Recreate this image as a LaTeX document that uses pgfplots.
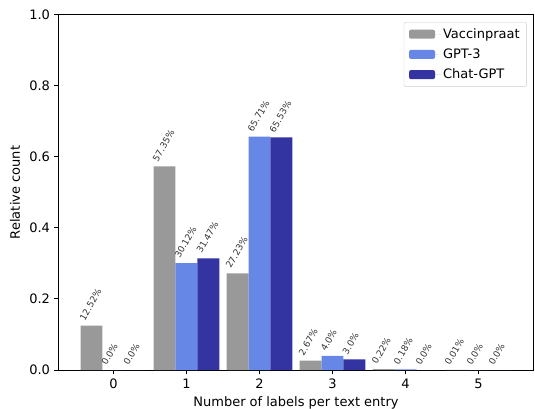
\documentclass[border=0pt]{standalone}
\usepackage{pgfplots}
\pgfplotsset{compat=1.18}
\usepackage{fontspec}
\setmainfont{DejaVu Sans}
\definecolor{cgrey}{HTML}{999999}
\definecolor{cgpt}{HTML}{6787E7}
\definecolor{cchat}{HTML}{3333A2}
\begin{document}
\fontsize{13}{15}\selectfont
\begin{tikzpicture}
\path[use as bounding box] (-59pt,-39pt) rectangle (476pt,370pt);
\begin{axis}[
  scale only axis, width=474pt, height=355pt,
  ybar,
  xmin=-0.745, xmax=5.745, ymin=0, ymax=1,
  xtick={0,1,2,3,4,5},
  ytick={0,0.2,0.4,0.6,0.8,1},
  /pgf/number format/assume math mode=true,
  yticklabel style={/pgf/number format/.cd, fixed, fixed zerofill, precision=1},
  ticklabel style={font=\fontsize{13}{15}\selectfont},
  tick align=outside, major tick length=4.5pt,
  xtick pos=bottom, ytick pos=left,
  axis line style={line width=1pt},
  tick style={black, line width=1pt},
  bar width=0.3,
  xlabel={Number of labels per text entry},
  ylabel={Relative count},
  label style={font=\fontsize{13}{15}\selectfont},
  xlabel style={at={(axis description cs:0.5,-0.093)}, anchor=center},
  ylabel style={at={(axis description cs:-0.0928,0.5)}, anchor=center},
  point meta=explicit symbolic,
  nodes near coords={\pgfplotspointmeta},
  every node near coord/.append style={font=\fontsize{9}{10}\selectfont, xshift=-6.5pt, yshift=4pt, rotate=60, anchor=south west, inner sep=0pt, text=black!80},
  legend style={at={(0.987,0.98)}, anchor=north east, draw=black!20, rounded corners=2pt, font=\fontsize{13}{15}\selectfont, row sep=4.5pt, inner xsep=5pt, inner ysep=4pt, cells={anchor=west}},
  legend image code/.code={\fill[#1] (0pt,-4.5pt) rectangle (26pt,4.5pt); \path (0pt,0pt) -- (32pt,0pt);},
]
\addplot[fill=cgrey, draw=none, bar shift=-0.3] coordinates {
  (0,0.1252) [12.52\%]
  (1,0.5735) [57.35\%]
  (2,0.2723) [27.23\%]
  (3,0.0267) [2.67\%]
  (4,0.0022) [0.22\%]
  (5,0.0001) [0.01\%]
};
\addplot[fill=cgpt, draw=none, bar shift=0] coordinates {
  (0,0) [0.0\%]
  (1,0.3012) [30.12\%]
  (2,0.6571) [65.71\%]
  (3,0.04) [4.0\%]
  (4,0.0018) [0.18\%]
  (5,0) [0.0\%]
};
\addplot[fill=cchat, draw=none, bar shift=0.3] coordinates {
  (0,0) [0.0\%]
  (1,0.3147) [31.47\%]
  (2,0.6553) [65.53\%]
  (3,0.03) [3.0\%]
  (4,0) [0.0\%]
  (5,0) [0.0\%]
};
\legend{Vaccinpraat, GPT-3, Chat-GPT}
\end{axis}
\end{tikzpicture}
\end{document}
